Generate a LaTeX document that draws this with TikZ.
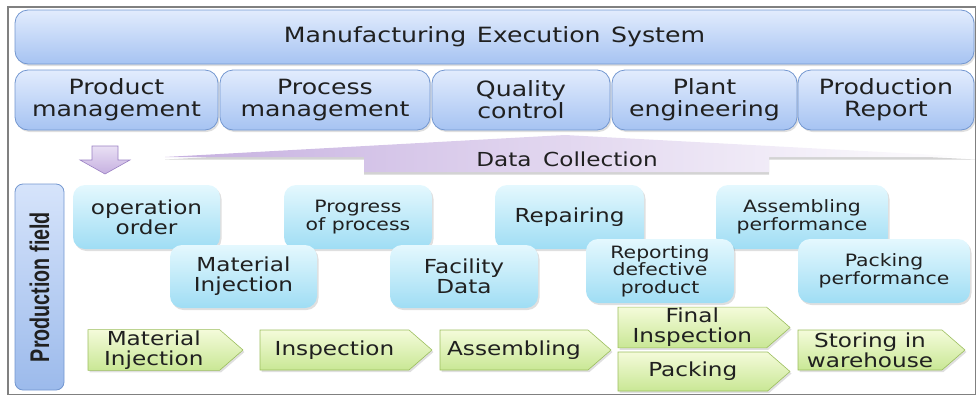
\documentclass[tikz,border=0pt]{standalone}
\usepackage{fontspec}
\usetikzlibrary{shapes,shapes.symbols,shadows,positioning}
\newfontfamily\mesfont[FakeStretch=1.2]{DejaVu Sans}
\newfontfamily\fieldfont[FakeStretch=0.73]{Liberation Sans}
\definecolor{mesline}{HTML}{7397D0}
\definecolor{mestop}{HTML}{E2ECFD}
\definecolor{mesbot}{HTML}{A6C3F2}
\definecolor{cyantop}{HTML}{E4F8FE}
\definecolor{cyanbot}{HTML}{9FDDF4}
\definecolor{greentop}{HTML}{F4FBDA}
\definecolor{greenbot}{HTML}{C9E795}
\definecolor{greenline}{HTML}{9CBE5E}
\definecolor{lavleft}{HTML}{C6B0E0}
\definecolor{lavmid}{HTML}{DACBED}
\definecolor{lavline}{HTML}{9A80C3}
\definecolor{inktext}{HTML}{202020}
\tikzset{
    bigtext/.style={font=\mesfont\fontsize{21}{22}\selectfont},
    midtext/.style={font=\mesfont\fontsize{19.3}{20}\selectfont},
    smalltext/.style={font=\mesfont\fontsize{17}{17.5}\selectfont},
    softshadow/.style={drop shadow={opacity=0.25, shadow xshift=1.5pt, shadow yshift=-2pt}},
    mesbox/.style={draw=mesline, line width=0.8pt, rounded corners=13pt,
        top color=mestop, bottom color=mesbot, text=inktext, align=center,
        inner sep=0pt, outer sep=0pt, softshadow, bigtext},
    fieldbox/.style={rounded corners=12pt, top color=cyantop, bottom color=cyanbot,
        text=inktext, align=center, inner sep=0pt, outer sep=0pt, softshadow},
    stepbox/.style={signal, signal to=east, signal pointer angle=82,
        draw=greenline, line width=0.6pt, top color=greentop, bottom color=greenbot,
        text=inktext, align=center, inner sep=1pt, outer sep=0pt,
        minimum height=40pt, softshadow, midtext},
    sidebox/.style={draw=mesline, line width=0.8pt, rounded corners=8pt,
        top color=mestop!80!mesbot, bottom color=mesbot!80!mesline,
        inner sep=0pt, outer sep=0pt},
}
\begin{document}
\begin{tikzpicture}[x=1pt, y=-1pt]
\useasboundingbox (0,0) rectangle (976,397);
\draw[gray, line width=1.2pt] (8,7) rectangle (975.5,394.5);
% system level
\node[mesbox, minimum width=959, minimum height=54] (mes) at (494.5,37) {Manufacturing\enspace Execution\enspace System};
\node[mesbox, minimum width=203, minimum height=60] (prod) at (116.5,100) {Product\\management};
\node[mesbox, minimum width=210, minimum height=60] (proc) at (325,100) {Process\\management};
\node[mesbox, minimum width=178, minimum height=60] (qual) at (521,100) {Quality\\control};
\node[mesbox, minimum width=185, minimum height=60] (plant) at (704.5,100) {Plant\\engineering};
\node[mesbox, minimum width=176, minimum height=60] (report) at (886,100) {Production\\Report};
% down arrow and data collection
\draw[lavline, line width=0.6pt, top color=lavmid!60!white, bottom color=lavleft]
    (92,146) -- (118,146) -- (118,160) -- (130,160) -- (105,174) -- (80,160) -- (92,160) -- cycle;
\shade[left color=lavleft, middle color=lavmid, right color=white,
    drop shadow={opacity=0.35, shadow xshift=0pt, shadow yshift=-2.5pt}]
    (165,157) -- (565,135) -- (975,157) -- (769,157) -- (769,172) -- (364,172) -- (364,157) -- cycle;
\node[midtext, text=inktext] (dc) at (567,159) {Data\hspace{0.6em}Collection};
% production field
\node[sidebox, minimum width=49, minimum height=206] (field) at (39.5,287) {};
\node[rotate=90, font=\fieldfont\bfseries\fontsize{27}{27}\selectfont, text=inktext] (fieldlbl) at (field.center) {Production field};
\node[fieldbox, midtext, minimum width=147, minimum height=64] (order) at (146.5,217) {operation\\order};
\node[fieldbox, smalltext, minimum width=148, minimum height=64] (progress) at (358,217) {Progress\\of process};
\node[fieldbox, midtext, minimum width=149, minimum height=64] (repair) at (569.5,217) {Repairing};
\node[fieldbox, smalltext, minimum width=172, minimum height=64] (asmperf) at (802,217) {Assembling\\performance};
\node[fieldbox, midtext, minimum width=147, minimum height=63] (matin) at (243.5,276.5) {Material\\Injection};
\node[fieldbox, midtext, minimum width=148, minimum height=63] (facility) at (464,276.5) {Facility\\Data};
\node[fieldbox, smalltext, minimum width=148, minimum height=64] (defect) at (660,271) {Reporting\\defective\\product};
\node[fieldbox, smalltext, minimum width=172, minimum height=64] (packperf) at (884,271) {Packing\\performance};
% process steps
\node[stepbox, minimum width=155, anchor=west] (s1) at (88,350) {Material\\Injection};
\node[stepbox, minimum width=172, anchor=west] (s2) at (260,350) {Inspection};
\node[stepbox, minimum width=171, anchor=west] (s3) at (440,350) {Assembling};
\node[stepbox, minimum width=172, minimum height=39, anchor=west] (s4) at (618,327.5) {Final\\Inspection};
\node[stepbox, minimum width=172, minimum height=39, anchor=west] (s5) at (618,371.5) {Packing};
\node[stepbox, minimum width=167, anchor=west] (s6) at (798,350) {Storing in\\warehouse};
\end{tikzpicture}
\end{document}
